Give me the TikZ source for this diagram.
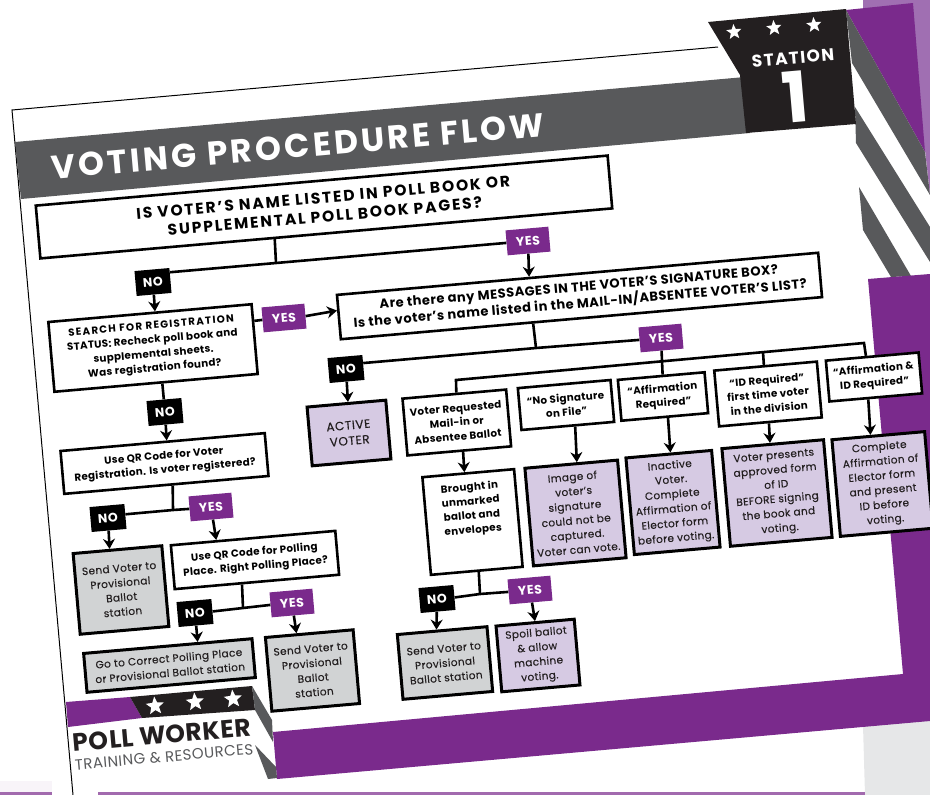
\documentclass[tikz,border=0pt]{standalone}
\usepackage{fontspec}
\setmainfont{Poppins}
\usetikzlibrary{arrows.meta,calc,shapes.geometric}
\definecolor{pollpurple}{HTML}{7A2A8C}
\definecolor{paleviolet}{HTML}{A06FB2}
\definecolor{lilac}{HTML}{D6CAE3}
\definecolor{slate}{HTML}{58595B}
\definecolor{ink}{HTML}{231F20}
\definecolor{silver}{HTML}{D1D3D4}
\definecolor{mist}{HTML}{E6E7E8}
\newcommand{\tracked}[3]{\fontsize{#1}{#2}\selectfont\addfontfeature{LetterSpace=#3}}
\begin{document}
\begin{tikzpicture}[x=1pt,y=-1pt]
        \tikzstyle{box}=[draw=black, line width=2.6pt, rotate=5, inner sep=0pt, align=center]
        \tikzstyle{ask}=[box, fill=white, font=\bfseries\tracked{10.3}{14.2}{3}]
        \tikzstyle{result}=[box, line width=3pt, text=ink, font=\tracked{10.5}{14.6}{3.5}\addfontfeature{FakeBold=0.25}]
        \tikzstyle{done}=[result, fill=lilac]
        \tikzstyle{stop}=[result, fill=silver]
        \tikzstyle{nolabel}=[fill=black, text=white, rotate=5, inner sep=0pt, minimum width=35pt, minimum height=25pt, font=\bfseries\tracked{12.5}{13}{5}]
        \tikzstyle{yeslabel}=[nolabel, fill=pollpurple, minimum width=43pt]
        \tikzstyle{flow}=[line width=2.6pt]
        \tikzstyle{arrow}=[flow, -{Stealth[length=10pt,width=12pt]}]
        \tikzstyle{badge}=[star, star points=5, star point ratio=2.3, fill=white, rotate=5, inner sep=0pt, minimum size=16pt]
        \useasboundingbox (0,0) rectangle (930,795);
            % sheet behind the page
            \fill[paleviolet] (863,0) -- (930,0) -- (930,195) -- (925,150) -- (863,10) -- cycle;
            \fill[mist] (863,725) -- (930,720) -- (930,795) -- (865,795) -- cycle;
            \fill[pollpurple!5] (0,781) rectangle (52,792);
            \fill[pollpurple!70] (0,792) rectangle (52,795);
            \fill[pollpurple!70] (98,792) rectangle (865,795);
            % frame and ribbons
            \draw[line width=1pt] (73,795) -- (12,110) -- (718,47);
            \fill[pollpurple] (846,10) -- (913,3) -- (925,152) -- cycle;
            \fill[slate] (846,10) -- (925,152) -- (930,195) -- (852,63) -- cycle;
            \fill[slate] (855,107) -- (930,227) -- (930,262) -- (856,143) -- cycle;
            \fill[slate] (859,187) -- (911,276) -- (891,277) -- (863,230) -- cycle;
            \fill[pollpurple] (868,279) -- (930,274) -- (930,721) -- (277,779) -- (273,732) -- (903,674) -- cycle;
            \fill[slate] (15,142) -- (745,77) -- (750,133) -- (21,199) -- cycle;
            \fill[ink] (708,22) -- (846,9) -- (856,124) -- (746,133) -- (740,75) -- cycle;
            \fill[pollpurple] (66,702) -- (130,697) -- (142,718) -- (68,727) -- cycle;
            \fill[ink] (130,697) -- (252,686) -- (255,710) -- (142,718) -- cycle;
            \fill[slate] (252,686) -- (272,720) -- (273,742) -- (255,710) -- cycle;
            \fill[slate] (255,745) -- (276,767) -- (277,778) -- (268,779) -- cycle;
            % headings
            \node[rotate=5, text=white, font=\bfseries\tracked{33}{34}{10}] (title) at (298,146) {VOTING PROCEDURE FLOW};
            \node[rotate=5, text=white, font=\bfseries\tracked{17}{18}{8}] (station) at (793,58) {STATION};
            \node[rotate=5, text=white, font=\bfseries\tracked{70}{70}{0}] (one) at (795,97) {1};
            \node[badge] (s1) at (734,32) {};
            \node[badge] (s2) at (774,28) {};
            \node[badge] (s3) at (814,25) {};
            \node[badge, minimum size=19pt] (s4) at (155,706) {};
            \node[badge, minimum size=19pt] (s5) at (195,702) {};
            \node[badge, minimum size=19pt] (s6) at (233,699) {};
            \node[rotate=5, text=ink, font=\bfseries\tracked{25}{26}{2}] (poll) at (162,735) {POLL WORKER};
            \node[rotate=5, text=slate, font=\tracked{15}{16}{3}] (train) at (164,757) {TRAINING \& RESOURCES};
            % questions
            \node[ask, minimum width=574pt, minimum height=53pt, font=\bfseries\tracked{15.5}{19}{12}] (q1) at (324,207) {IS VOTER’S NAME LISTED IN POLL BOOK OR\\SUPPLEMENTAL POLL BOOK PAGES?};
            \node[ask, minimum width=204pt, minimum height=70pt] (search) at (153,348) {{\addfontfeature{LetterSpace=12}SEARCH FOR REGISTRATION}\\STATUS: Recheck poll book and\\supplemental sheets.\\Was registration found?};
            \node[ask, minimum width=483pt, minimum height=44.5pt, font=\bfseries\tracked{13}{16.5}{4}] (q2) at (579.5,296) {Are there any MESSAGES IN THE VOTER’S SIGNATURE BOX?\\Is the voter’s name listed in the MAIL-IN/ABSENTEE VOTER’S LIST?};
            \node[ask, minimum width=205pt, minimum height=43pt] (qrvoter) at (164.5,463.5) {Use QR Code for Voter\\Registration. Is voter registered?};
            \node[ask, minimum width=165pt, minimum height=44pt] (qrpoll) at (255,560) {Use QR Code for Polling\\Place. Right Polling Place?};
            \node[ask, minimum width=104pt, minimum height=57pt] (voter) at (456.8,422.5) {Voter Requested\\Mail-in or\\Absentee Ballot};
            \node[ask, minimum width=93pt, minimum height=42pt] (nosig) at (566,405) {“No Signature\\on File”};
            \node[ask, minimum width=87pt, minimum height=41pt] (aff) at (663,396.5) {“Affirmation\\Required”};
            \node[ask, minimum width=103pt, minimum height=56pt] (idreq) at (768,394) {“ID Required”\\first time voter\\in the division};
            \node[ask, minimum width=93pt, minimum height=41pt] (affid) at (874,377) {“Affirmation \&\\ID Required”};
            \node[ask, minimum width=92pt, minimum height=98pt] (brought) at (472.5,522) {Brought in\\unmarked\\ballot and\\envelopes\\~\\~};
            % outcomes
            \node[done, minimum width=79pt, minimum height=59pt, font=\tracked{12}{15.5}{5}\addfontfeature{FakeBold=0.35}] (active) at (349,433) {ACTIVE\\VOTER};
            \node[done, minimum width=93pt, minimum height=98pt] (image) at (575.5,513) {Image of\\voter’s\\signature\\could not be\\captured.\\Voter can vote.};
            \node[done, minimum width=86pt, minimum height=97pt] (inactive) at (673,502.5) {Inactive\\Voter.\\Complete\\Affirmation of\\Elector form\\before voting.};
            \node[done, minimum width=102pt, minimum height=98pt] (present) at (777,493) {Voter presents\\approved form\\of ID\\BEFORE signing\\the book and\\voting.};
            \node[done, minimum width=93pt, minimum height=97pt] (complete) at (882.5,484) {Complete\\Affirmation of\\Elector form\\and present\\ID before\\voting.};
            \node[done, minimum width=78.5pt, minimum height=66pt] (spoil) at (538,655.5) {Spoil ballot\\\& allow\\machine\\voting.};
            \node[stop, minimum width=89pt, minimum height=81pt] (send1) at (121,590) {Send Voter to\\Provisional\\Ballot\\station};
            \node[stop, minimum width=169pt, minimum height=39pt] (goto) at (169.5,665.5) {Go to Correct Polling Place\\or Provisional Ballot station};
            \node[stop, minimum width=88pt, minimum height=74pt] (send2) at (312.5,670.5) {Send Voter to\\Provisional\\Ballot\\station};
            \node[stop, minimum width=90pt, minimum height=65pt] (send3) at (445,663) {Send Voter to\\Provisional\\Ballot station};
            % yes and no tags
            \node[nolabel] (no1) at (153,282) {NO};
            \node[yeslabel] (yes1) at (528,241) {YES};
            \node[yeslabel] (yes2) at (284,318) {YES};
            \node[nolabel] (no2) at (165,412) {NO};
            \node[nolabel] (no3) at (346,369) {NO};
            \node[yeslabel] (yes3) at (661,338) {YES};
            \node[nolabel] (no4) at (108,518) {NO};
            \node[yeslabel] (yes4) at (211,507) {YES};
            \node[nolabel] (no5) at (195,613) {NO};
            \node[yeslabel] (yes5) at (292,603) {YES};
            \node[nolabel] (no6) at (437,599) {NO};
            \node[yeslabel] (yes6) at (530,590) {YES};
            % joins
            \coordinate (j1) at (276,263);
            \coordinate (j2) at (536,348);
            \coordinate (j3) at (173,510);
            \coordinate (j4) at (243,608);
            \coordinate (j5) at (480,594);
            \coordinate (busl) at (456,380);
            \coordinate (busr) at (864,343);
            \coordinate (busi) at (763,352.2);
            % connectors
            \draw[flow] ($(q1.south west)!.41!(q1.south east)$) -- (j1);
            \draw[flow] (no1.25) -- (j1) -- (yes1.west);
            \draw[arrow] (no1) -- ($(search.north west)!.525!(search.north east)$);
            \draw[arrow] (yes1) -- ($(q2.north west)!.40!(q2.north east)$);
            \draw[flow] (search.10) -- (yes2.west);
            \draw[arrow] (yes2.east) -- ($(q2.north west)!.36!(q2.south west)$);
            \draw[flow] ($(search.south west)!.53!(search.south east)$) -- (no2);
            \draw[arrow] (no2) -- ($(qrvoter.north west)!.52!(qrvoter.north east)$);
            \draw[flow] ($(qrvoter.south west)!.53!(qrvoter.south east)$) -- (j3);
            \draw[flow] (no4.7) -- (j3) -- (yes4.west);
            \draw[arrow] (no4) -- ($(send1.north west)!.415!(send1.north east)$);
            \draw[arrow] (yes4) -- ($(qrpoll.north west)!.28!(qrpoll.north east)$);
            \draw[flow] ($(qrpoll.south west)!.41!(qrpoll.south east)$) -- (j4);
            \draw[flow] (no5.east) -- (j4) -- (yes5.west);
            \draw[arrow] (no5) -- ($(goto.north west)!.675!(goto.north east)$);
            \draw[arrow] (yes5) -- ($(send2.north west)!.36!(send2.north east)$);
            \draw[flow] ($(q2.south west)!.40!(q2.south east)$) -- (j2);
            \draw[flow] (no3.14) -- (j2) -- (yes3.west);
            \draw[arrow] (no3) -- ($(active.north west)!.52!(active.north east)$);
            \draw[flow] ($(voter.north west)!.52!(voter.north east)$) -- (busl) -- (busr) -- ($(affid.north west)!.435!(affid.north east)$);
            \draw[flow] (yes3) -- ($(aff.north west)!.517!(aff.north east)$);
            \draw[flow] (busi) -- ($(idreq.north west)!.485!(idreq.north east)$);
            \draw[arrow] ($(voter.south west)!.535!(voter.south east)$) -- ($(brought.north west)!.46!(brought.north east)$);
            \draw[arrow] ($(nosig.south west)!.576!(nosig.south east)$) -- ($(image.north west)!.56!(image.north east)$);
            \draw[arrow] ($(aff.south west)!.535!(aff.south east)$) -- ($(inactive.north west)!.52!(inactive.north east)$);
            \draw[arrow] ($(idreq.south west)!.485!(idreq.south east)$) -- ($(present.north west)!.475!(present.north east)$);
            \draw[arrow] ($(affid.south west)!.42!(affid.south east)$) -- ($(complete.north west)!.42!(complete.north east)$);
            \draw[flow] ($(brought.south west)!.52!(brought.south east)$) -- (j5);
            \draw[flow] (no6.east) -- (j5) -- (yes6.west);
            \draw[arrow] (no6) -- ($(send3.north west)!.44!(send3.north east)$);
            \draw[arrow] (yes6) -- (spoil.north);
        \end{tikzpicture}
\end{document}
